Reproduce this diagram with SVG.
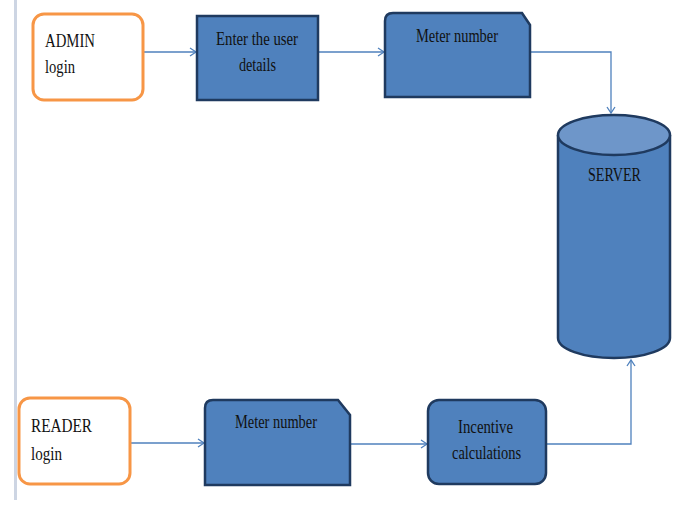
<svg xmlns="http://www.w3.org/2000/svg" width="675" height="506" viewBox="0 0 675 506">
<style>
.t{font-family:"Liberation Serif","Times New Roman",serif;font-size:18px;fill:#111;}
.blue{fill:#4f81bd;stroke:#1f3a5f;stroke-width:2.5;}
.login{fill:#fff;stroke:#f79646;stroke-width:3;}
.conn{fill:none;stroke:#4f81bd;stroke-width:1.3;marker-end:url(#arr);}
</style>
<defs>
<marker id="arr" markerWidth="10" markerHeight="10" refX="8" refY="5" orient="auto" markerUnits="userSpaceOnUse">
<path d="M2,1 L8,5 L2,9" fill="none" stroke="#4f81bd" stroke-width="1.3"/>
</marker>
</defs>
<rect x="14" y="0" width="3" height="500" fill="#cdd5e3"/>
<g id="connectors">
<path class="conn" d="M143,52 H196"/>
<path class="conn" d="M318,52 H384"/>
<path class="conn" d="M530,52 H611 V113"/>
<path class="conn" d="M130,443 H204"/>
<path class="conn" d="M350,444 H427"/>
<path class="conn" d="M546,444 H631 V360"/>
</g>
<g id="admin-login">
<rect class="login" x="33" y="14" width="110" height="86" rx="11"/>
<text class="t" x="45" y="47" textLength="50" lengthAdjust="spacingAndGlyphs">ADMIN</text>
<text class="t" x="45" y="73" textLength="30" lengthAdjust="spacingAndGlyphs">login</text>
</g>
<g id="enter-user-details">
<rect class="blue" x="197" y="16" width="121" height="84"/>
<text class="t" x="216" y="45" textLength="82" lengthAdjust="spacingAndGlyphs">Enter the user</text>
<text class="t" x="239" y="71" textLength="37" lengthAdjust="spacingAndGlyphs">details</text>
</g>
<g id="meter-number-top">
<path class="blue" d="M393,13 H522 L530,25 V97 H385 V21 Q385,13 393,13 Z"/>
<text class="t" x="416" y="42" textLength="82" lengthAdjust="spacingAndGlyphs">Meter number</text>
</g>
<g id="server">
<path class="blue" d="M558,135 V338 A56,20 0 0 0 670,338 V135"/>
<ellipse cx="614" cy="135" rx="56" ry="20" fill="#6e96c9" stroke="#1f3a5f" stroke-width="2.5"/>
<text class="t" x="588" y="181" textLength="53" lengthAdjust="spacingAndGlyphs">SERVER</text>
</g>
<g id="reader-login">
<rect class="login" x="19" y="398" width="111" height="86" rx="11"/>
<text class="t" x="31" y="432" textLength="61" lengthAdjust="spacingAndGlyphs">READER</text>
<text class="t" x="31" y="460" textLength="31" lengthAdjust="spacingAndGlyphs">login</text>
</g>
<g id="meter-number-bottom">
<path class="blue" d="M213,400 H338 L350,415 V485 H205 V408 Q205,400 213,400 Z"/>
<text class="t" x="235" y="428" textLength="82" lengthAdjust="spacingAndGlyphs">Meter number</text>
</g>
<g id="incentive-calculations">
<rect class="blue" x="428" y="400" width="118" height="84" rx="11"/>
<text class="t" x="458" y="433" textLength="55" lengthAdjust="spacingAndGlyphs">Incentive</text>
<text class="t" x="452" y="459" textLength="69" lengthAdjust="spacingAndGlyphs">calculations</text>
</g>
</svg>
